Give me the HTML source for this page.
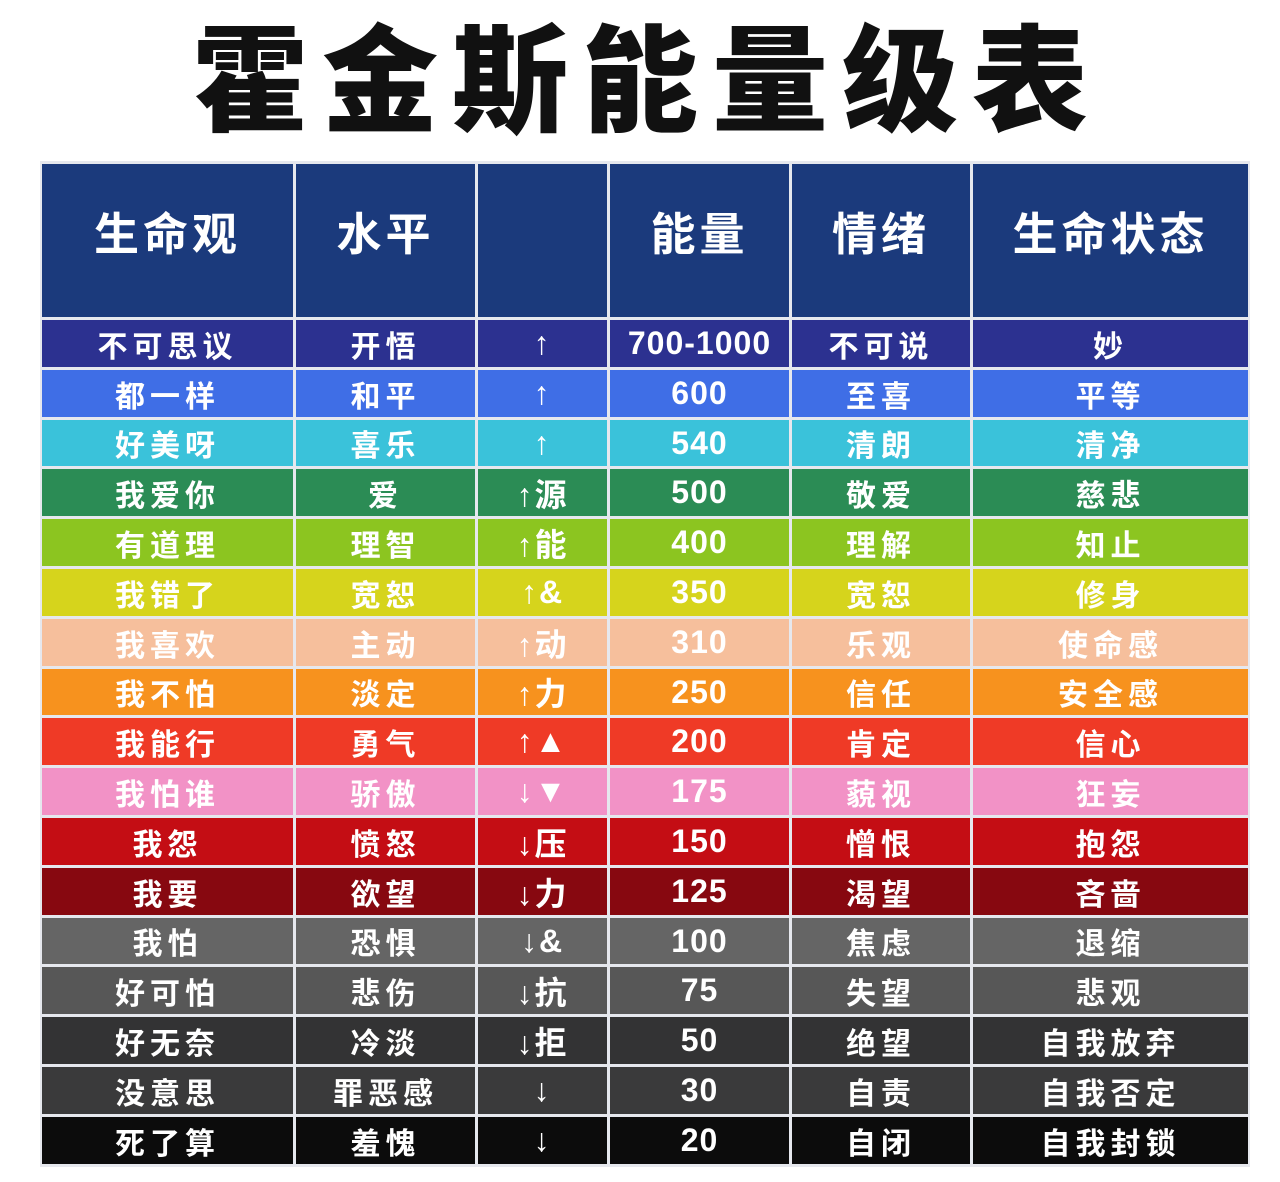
<!DOCTYPE html>
<html><head><meta charset="utf-8"><style>
body{margin:0;width:1280px;height:1182px;background:#fff;position:relative;overflow:hidden;font-family:"Liberation Sans","Noto Sans CJK SC",sans-serif;}
.t{position:absolute;left:0;width:1280px;top:12px;text-align:center;font-size:116px;font-weight:900;letter-spacing:14px;color:#111;line-height:140px;padding-left:14px;box-sizing:border-box}
.c{position:absolute;color:#fff;font-weight:bold;display:flex;align-items:center;justify-content:center;font-size:30px;letter-spacing:5px;box-sizing:border-box}
.h{font-size:45px;letter-spacing:4px;background:#1b3a7c;padding-bottom:20px;}
.n{font-size:32px;letter-spacing:1px;}
.a{font-size:32px;letter-spacing:2px;}
.grid{position:absolute;left:40px;top:161px;width:1210px;height:1006px;background:#e6e8ee;}
</style></head><body>
<div class="t">霍金斯能量级表</div>
<div class="grid"></div>
<div id="tb"></div>
<script>
const cols=[[42,293],[296,475],[478,607],[610,789],[792,970],[973,1248]];
const heads=["生命观","水平","","能量","情绪","生命状态"];
const rows=[
["#2c3190","不可思议","开悟","↑","700-1000","不可说","妙"],
["#3f6ee6","都一样","和平","↑","600","至喜","平等"],
["#3ac2da","好美呀","喜乐","↑","540","清朗","清净"],
["#2b8c55","我爱你","爱","↑源","500","敬爱","慈悲"],
["#8cc520","有道理","理智","↑能","400","理解","知止"],
["#d6d41c","我错了","宽恕","↑&","350","宽恕","修身"],
["#f6bf9c","我喜欢","主动","↑动","310","乐观","使命感"],
["#f7921e","我不怕","淡定","↑力","250","信任","安全感"],
["#ef3a26","我能行","勇气","↑▲","200","肯定","信心"],
["#f292c6","我怕谁","骄傲","↓▼","175","藐视","狂妄"],
["#c40d14","我怨","愤怒","↓压","150","憎恨","抱怨"],
["#870810","我要","欲望","↓力","125","渴望","吝啬"],
["#656565","我怕","恐惧","↓&","100","焦虑","退缩"],
["#575757","好可怕","悲伤","↓抗","75","失望","悲观"],
["#333334","好无奈","冷淡","↓拒","50","绝望","自我放弃"],
["#3a3a3b","没意思","罪恶感","↓","30","自责","自我否定"],
["#0c0c0c","死了算","羞愧","↓","20","自闭","自我封锁"]];
let h="";
cols.forEach((c,j)=>{h+=`<div class="c h" style="left:${c[0]}px;width:${c[1]-c[0]}px;top:164px;height:153px">${heads[j]}</div>`});
rows.forEach((r,i)=>{const top=Math.round(320+i*49.8);const hh=Math.round(320+(i+1)*49.8)-top-3;
cols.forEach((c,j)=>{const cl=j==3?"c n":(j==2?"c a":"c");h+=`<div class="${cl}" style="left:${c[0]}px;width:${c[1]-c[0]}px;top:${top}px;height:${hh}px;background:${r[0]}">${r[j+1]}</div>`})});
document.getElementById('tb').innerHTML=h;
</script>
</body></html>
